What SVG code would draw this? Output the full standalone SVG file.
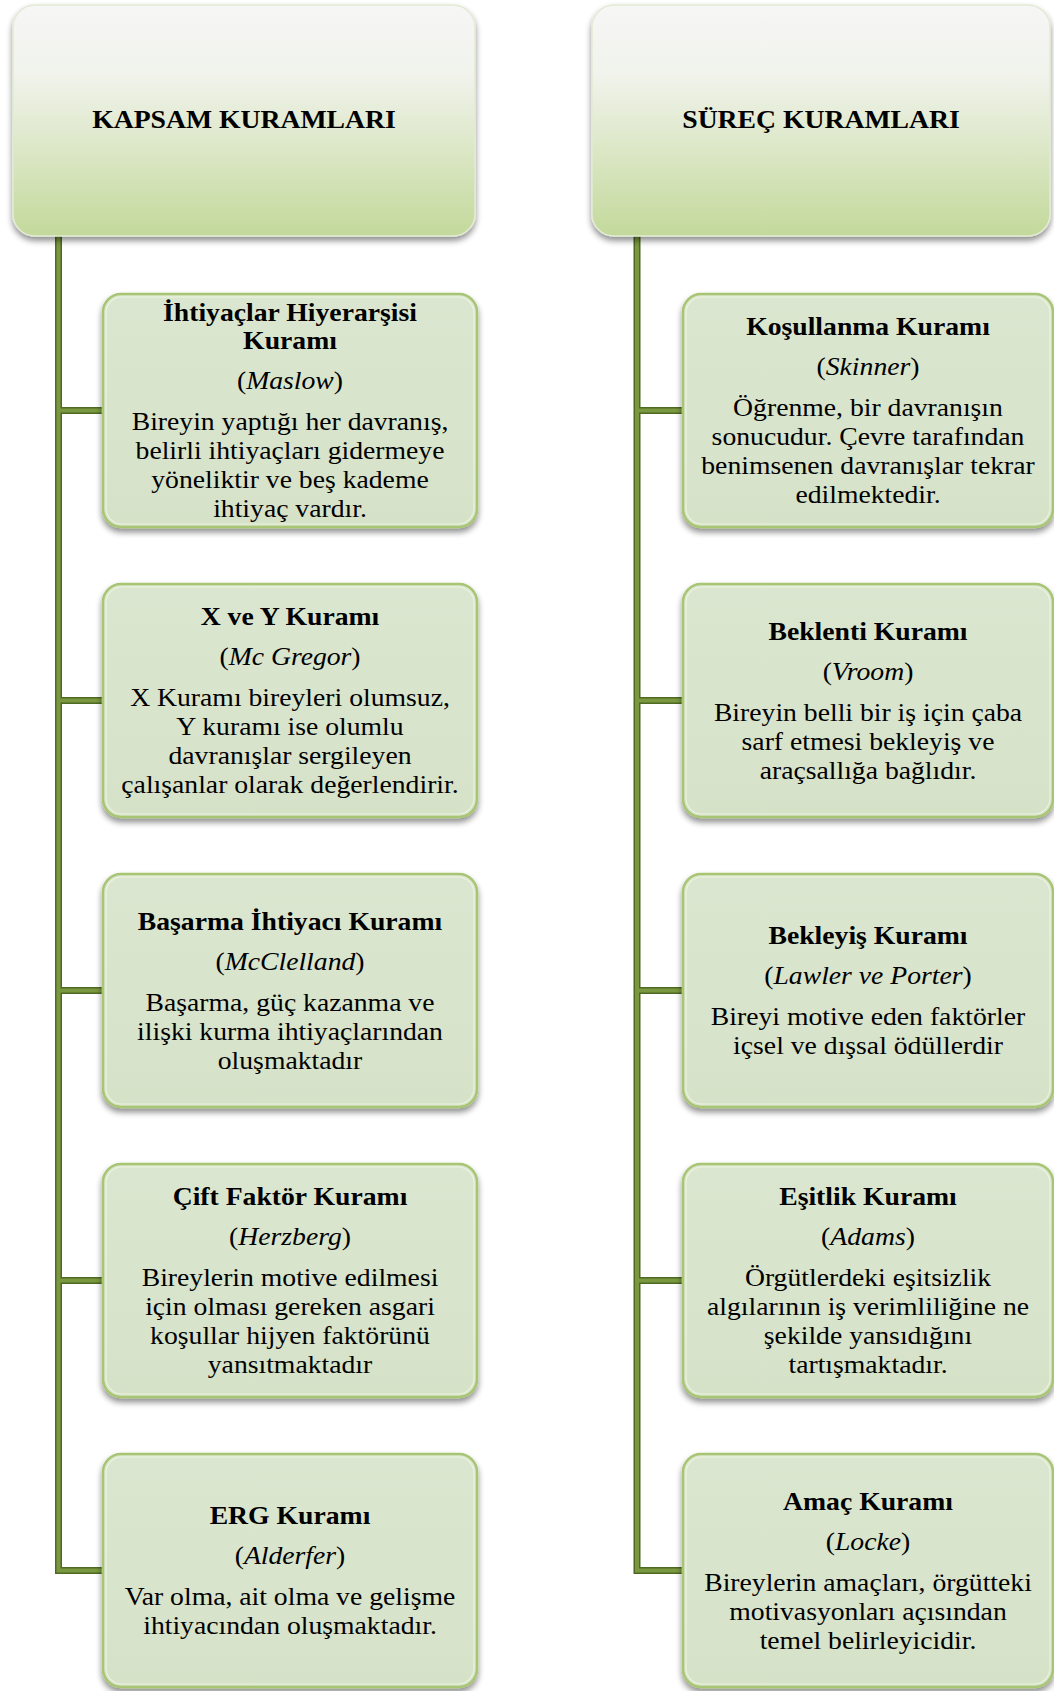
<svg xmlns="http://www.w3.org/2000/svg" width="1054" height="1691" viewBox="0 0 1054 1691">
<defs>
<linearGradient id="hdr" x1="0" y1="0" x2="0" y2="1">
<stop offset="0" stop-color="#f6f6f6"/>
<stop offset="0.3" stop-color="#f1f3ec"/>
<stop offset="1" stop-color="#c3d99b"/>
</linearGradient>
<linearGradient id="box" x1="0" y1="0" x2="0" y2="1">
<stop offset="0" stop-color="#dbe6d0"/>
<stop offset="1" stop-color="#d6e2c8"/>
</linearGradient>
<filter id="sh" x="-10%" y="-10%" width="120%" height="125%">
<feGaussianBlur in="SourceAlpha" stdDeviation="3"/>
<feOffset dy="4" result="b"/>
<feComponentTransfer><feFuncA type="linear" slope="0.45"/></feComponentTransfer>
<feMerge><feMergeNode/><feMergeNode in="SourceGraphic"/></feMerge>
</filter>
<style>
.hdr{fill:url(#hdr);stroke:#e2ead4;stroke-width:1.5;filter:url(#sh)}
.box{fill:url(#box);stroke:#a7c572;stroke-width:2.5;filter:url(#sh)}
.hi{fill:none;stroke:#f0f6e4;stroke-width:1.2;opacity:0.8}
text{font-family:"Liberation Serif","Times New Roman",serif;font-size:26px;fill:#000;text-anchor:middle}
.b{font-weight:bold}
.i{font-style:italic}
.c1{stroke:#4e6922;stroke-width:7;fill:none}
.c2{stroke:#7a983f;stroke-width:4;fill:none}
</style>
</defs>
<rect width="1054" height="1691" fill="#ffffff"/>

<g id="connectors">
<path class="c1" d="M58.5 236 V1570.5 H103 M58.5 410.5 H103 M58.5 700.5 H103 M58.5 990.5 H103 M58.5 1280.5 H103 M637 236 V1570.5 H683 M637 410.5 H683 M637 700.5 H683 M637 990.5 H683 M637 1280.5 H683"/>
<path class="c2" d="M58.5 237 V1570.5 H103 M58.5 410.5 H103 M58.5 700.5 H103 M58.5 990.5 H103 M58.5 1280.5 H103 M637 237 V1570.5 H683 M637 410.5 H683 M637 700.5 H683 M637 990.5 H683 M637 1280.5 H683"/>
</g>

<g id="kapsam">
<rect class="hdr" x="13" y="5" width="462" height="231" rx="22"/>
<g transform="translate(244 0) scale(1.065 1)"><text class="b" x="0" y="128">KAPSAM KURAMLARI</text></g>
</g>

<g id="surec">
<rect class="hdr" x="592" y="5" width="458" height="231" rx="22"/>
<g transform="translate(821 0) scale(1.065 1)"><text class="b" x="0" y="128">SÜREÇ KURAMLARI</text></g>
</g>

<g id="maslow">
<rect class="box" x="103" y="294" width="374" height="233" rx="18"/>
<rect class="hi" x="106" y="297" width="368" height="227" rx="16"/>
<g transform="translate(290 0) scale(1.065 1)">
<text class="b" x="0" y="321">İhtiyaçlar Hiyerarşisi</text>
<text class="b" x="0" y="349">Kuramı</text>
<text x="0" y="389">(<tspan class="i">Maslow</tspan>)</text>
<text x="0" y="430">Bireyin yaptığı her davranış,</text>
<text x="0" y="459">belirli ihtiyaçları gidermeye</text>
<text x="0" y="488">yöneliktir ve beş kademe</text>
<text x="0" y="517">ihtiyaç vardır.</text>
</g>
</g>

<g id="mcgregor">
<rect class="box" x="103" y="584" width="374" height="233" rx="18"/>
<rect class="hi" x="106" y="587" width="368" height="227" rx="16"/>
<g transform="translate(290 0) scale(1.065 1)">
<text class="b" x="0" y="625">X ve Y Kuramı</text>
<text x="0" y="665">(<tspan class="i">Mc Gregor</tspan>)</text>
<text x="0" y="706">X Kuramı bireyleri olumsuz,</text>
<text x="0" y="735">Y kuramı ise olumlu</text>
<text x="0" y="764">davranışlar sergileyen</text>
<text x="0" y="793">çalışanlar olarak değerlendirir.</text>
</g>
</g>

<g id="mcclelland">
<rect class="box" x="103" y="874" width="374" height="233" rx="18"/>
<rect class="hi" x="106" y="877" width="368" height="227" rx="16"/>
<g transform="translate(290 0) scale(1.065 1)">
<text class="b" x="0" y="930">Başarma İhtiyacı Kuramı</text>
<text x="0" y="970">(<tspan class="i">McClelland</tspan>)</text>
<text x="0" y="1011">Başarma, güç kazanma ve</text>
<text x="0" y="1040">ilişki kurma ihtiyaçlarından</text>
<text x="0" y="1069">oluşmaktadır</text>
</g>
</g>

<g id="herzberg">
<rect class="box" x="103" y="1164" width="374" height="233" rx="18"/>
<rect class="hi" x="106" y="1167" width="368" height="227" rx="16"/>
<g transform="translate(290 0) scale(1.065 1)">
<text class="b" x="0" y="1205">Çift Faktör Kuramı</text>
<text x="0" y="1245">(<tspan class="i">Herzberg</tspan>)</text>
<text x="0" y="1286">Bireylerin motive edilmesi</text>
<text x="0" y="1315">için olması gereken asgari</text>
<text x="0" y="1344">koşullar hijyen faktörünü</text>
<text x="0" y="1373">yansıtmaktadır</text>
</g>
</g>

<g id="alderfer">
<rect class="box" x="103" y="1454" width="374" height="233" rx="18"/>
<rect class="hi" x="106" y="1457" width="368" height="227" rx="16"/>
<g transform="translate(290 0) scale(1.065 1)">
<text class="b" x="0" y="1524">ERG Kuramı</text>
<text x="0" y="1564">(<tspan class="i">Alderfer</tspan>)</text>
<text x="0" y="1605">Var olma, ait olma ve gelişme</text>
<text x="0" y="1634">ihtiyacından oluşmaktadır.</text>
</g>
</g>

<g id="skinner">
<rect class="box" x="683" y="294" width="370" height="233" rx="18"/>
<rect class="hi" x="686" y="297" width="364" height="227" rx="16"/>
<g transform="translate(868 0) scale(1.065 1)">
<text class="b" x="0" y="335">Koşullanma Kuramı</text>
<text x="0" y="375">(<tspan class="i">Skinner</tspan>)</text>
<text x="0" y="416">Öğrenme, bir davranışın</text>
<text x="0" y="445">sonucudur. Çevre tarafından</text>
<text x="0" y="474">benimsenen davranışlar tekrar</text>
<text x="0" y="503">edilmektedir.</text>
</g>
</g>

<g id="vroom">
<rect class="box" x="683" y="584" width="370" height="233" rx="18"/>
<rect class="hi" x="686" y="587" width="364" height="227" rx="16"/>
<g transform="translate(868 0) scale(1.065 1)">
<text class="b" x="0" y="640">Beklenti Kuramı</text>
<text x="0" y="680">(<tspan class="i">Vroom</tspan>)</text>
<text x="0" y="721">Bireyin belli bir iş için çaba</text>
<text x="0" y="750">sarf etmesi bekleyiş ve</text>
<text x="0" y="779">araçsallığa bağlıdır.</text>
</g>
</g>

<g id="lawler">
<rect class="box" x="683" y="874" width="370" height="233" rx="18"/>
<rect class="hi" x="686" y="877" width="364" height="227" rx="16"/>
<g transform="translate(868 0) scale(1.065 1)">
<text class="b" x="0" y="944">Bekleyiş Kuramı</text>
<text x="0" y="984">(<tspan class="i">Lawler ve Porter</tspan>)</text>
<text x="0" y="1025">Bireyi motive eden faktörler</text>
<text x="0" y="1054">içsel ve dışsal ödüllerdir</text>
</g>
</g>

<g id="adams">
<rect class="box" x="683" y="1164" width="370" height="233" rx="18"/>
<rect class="hi" x="686" y="1167" width="364" height="227" rx="16"/>
<g transform="translate(868 0) scale(1.065 1)">
<text class="b" x="0" y="1205">Eşitlik Kuramı</text>
<text x="0" y="1245">(<tspan class="i">Adams</tspan>)</text>
<text x="0" y="1286">Örgütlerdeki eşitsizlik</text>
<text x="0" y="1315">algılarının iş verimliliğine ne</text>
<text x="0" y="1344">şekilde yansıdığını</text>
<text x="0" y="1373">tartışmaktadır.</text>
</g>
</g>

<g id="locke">
<rect class="box" x="683" y="1454" width="370" height="233" rx="18"/>
<rect class="hi" x="686" y="1457" width="364" height="227" rx="16"/>
<g transform="translate(868 0) scale(1.065 1)">
<text class="b" x="0" y="1510">Amaç Kuramı</text>
<text x="0" y="1550">(<tspan class="i">Locke</tspan>)</text>
<text x="0" y="1591">Bireylerin amaçları, örgütteki</text>
<text x="0" y="1620">motivasyonları açısından</text>
<text x="0" y="1649">temel belirleyicidir.</text>
</g>
</g>
</svg>
